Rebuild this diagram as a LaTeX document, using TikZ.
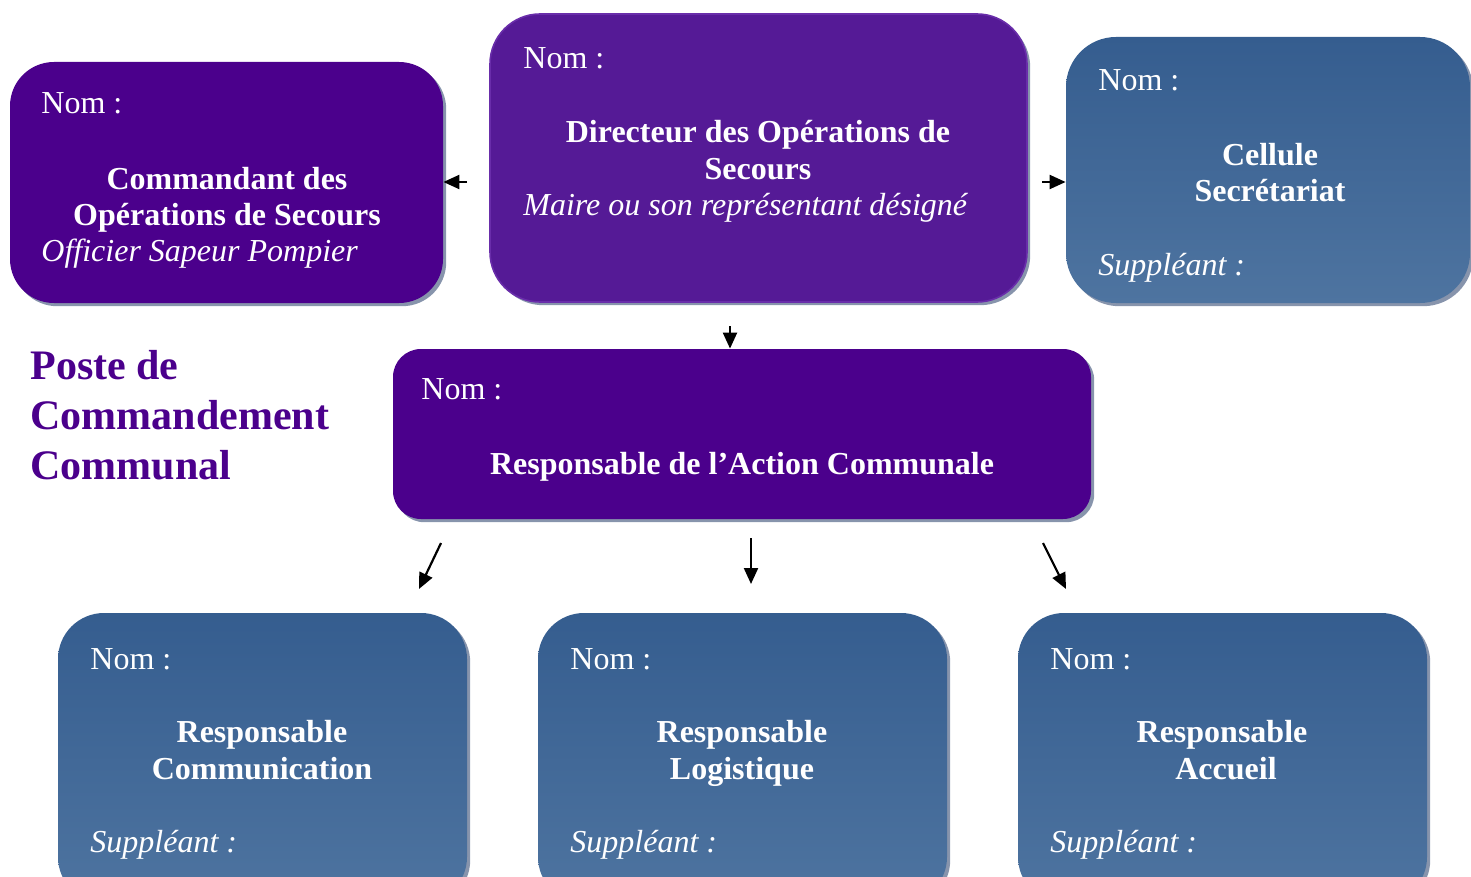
\documentclass[tikz,border=0pt]{standalone}
\usepackage{fontspec}
\setmainfont{Liberation Serif}
\usetikzlibrary{arrows.meta,shadows}
\definecolor{indigoc}{RGB}{75,0,140}
\definecolor{dirc}{RGB}{85,26,150}
\definecolor{dirline}{RGB}{105,45,170}
\definecolor{bluetop}{RGB}{53,93,143}
\definecolor{bluebot}{RGB}{78,116,160}
\definecolor{shadowc}{RGB}{135,148,172}
\tikzset{
  boxbase/.style={rectangle, inner sep=0pt, draw=none,
    drop shadow={shadow xshift=1.6pt, shadow yshift=-1.6pt, fill=shadowc, opacity=1}},
  purplebox/.style={boxbase, fill=indigoc},
  dirbox/.style={boxbase, fill=dirc, draw=dirline, line width=0.8pt},
  bluebox/.style={boxbase, top color=bluetop, bottom color=bluebot},
  txt/.style={inner sep=0pt, text=white, font=\fontsize{16}{18.5}\selectfont},
  nomtxt/.style={txt, anchor=base west},
  boldtxt/.style={txt, anchor=base, font=\fontsize{16}{18.5}\selectfont\bfseries},
  itxt/.style={txt, anchor=base west, font=\fontsize{16}{18.5}\selectfont\itshape},
  titletxt/.style={inner sep=0pt, anchor=base west, text=indigoc, font=\fontsize{21}{25}\selectfont\bfseries},
  arr/.style={-{Triangle[length=8pt,width=7pt]}, line width=1.1pt, black}
}
\begin{document}
\begin{tikzpicture}[x=0.5pt,y=-0.5pt]
\useasboundingbox (0,0) rectangle (1471,877);
\clip (0,0) rectangle (1471,877);

% boxes
\node[purplebox, rounded corners=22pt, minimum width=216.5pt, minimum height=120.5pt] (cds) at (226.5,182.5) {};
\node[dirbox, rounded corners=25pt, minimum width=268.5pt, minimum height=144pt] (dir) at (758.5,158) {};
\node[bluebox, rounded corners=25pt, minimum width=202pt, minimum height=133pt] (cel) at (1268,170) {};
\node[purplebox, rounded corners=14pt, minimum width=349pt, minimum height=85pt] (rac) at (742,434) {};
\node[bluebox, rounded corners=23pt, minimum width=204.5pt, minimum height=145pt] (rcom) at (262.5,758) {};
\node[bluebox, rounded corners=23pt, minimum width=204.5pt, minimum height=145pt] (rlog) at (742.5,758) {};
\node[bluebox, rounded corners=23pt, minimum width=204.5pt, minimum height=145pt] (racc) at (1222.5,758) {};

% texts: Commandant
\node[nomtxt] (cdsnom) at (41,114) {Nom :};
\node[boldtxt] (cdsl1) at (227,190) {Commandant des};
\node[boldtxt] (cdsl2) at (227,226) {Opérations de Secours};
\node[itxt] (cdsl3) at (41,262) {Officier Sapeur Pompier};

% Directeur
\node[nomtxt] (dirnom) at (523,69) {Nom :};
\node[boldtxt] (dirl1) at (758,143) {Directeur des Opérations de};
\node[boldtxt] (dirl2) at (758,180) {Secours};
\node[itxt] (dirl3) at (523,216) {Maire ou son représentant désigné};

% Cellule
\node[nomtxt] (celnom) at (1098,91) {Nom :};
\node[boldtxt] (cell1) at (1270,166) {Cellule};
\node[boldtxt] (cell2) at (1270,202) {Secrétariat};
\node[itxt] (cell3) at (1098,276) {Suppléant :};

% RAC
\node[nomtxt] (racnom) at (421,399) {Nom :};
\node[boldtxt] (racl1) at (742,474) {Responsable de l’Action Communale};

% bottom
\node[nomtxt] (rcomnom) at (90,669) {Nom :};
\node[boldtxt] (rcoml1) at (262,742) {Responsable};
\node[boldtxt] (rcoml2) at (262,779) {Communication};
\node[itxt] (rcoml3) at (90,852) {Suppléant :};

\node[nomtxt] (rlognom) at (570,669) {Nom :};
\node[boldtxt] (rlogl1) at (742,742) {Responsable};
\node[boldtxt] (rlogl2) at (742,779) {Logistique};
\node[itxt] (rlogl3) at (570,852) {Suppléant :};

\node[nomtxt] (raccnom) at (1050,669) {Nom :};
\node[boldtxt] (raccl1) at (1222,742) {Responsable};
\node[boldtxt] (raccl2) at (1226,779) {Accueil};
\node[itxt] (raccl3) at (1050,852) {Suppléant :};

% title
\node[titletxt] (t1) at (30,379) {Poste de};
\node[titletxt] (t2) at (30,429) {Commandement};
\node[titletxt] (t3) at (30,479) {Communal};

% arrows
\coordinate (aL) at (467,182);
\coordinate (aR) at (1042,182);
\coordinate (aD) at (730,326);
\coordinate (b1s) at (441,543);
\coordinate (b1e) at (419,589);
\coordinate (b2s) at (751,538);
\coordinate (b2e) at (751,584);
\coordinate (b3s) at (1043,543);
\coordinate (b3e) at (1066,589);
\draw[arr] (aL) -- (aL -| cds.east);
\draw[arr] (aR) -- (aR -| cel.west);
\draw[arr] (aD) -- (aD |- rac.north);
\draw[arr] (b1s) -- (b1e);
\draw[arr] (b2s) -- (b2e);
\draw[arr] (b3s) -- (b3e);
\end{tikzpicture}
\end{document}
